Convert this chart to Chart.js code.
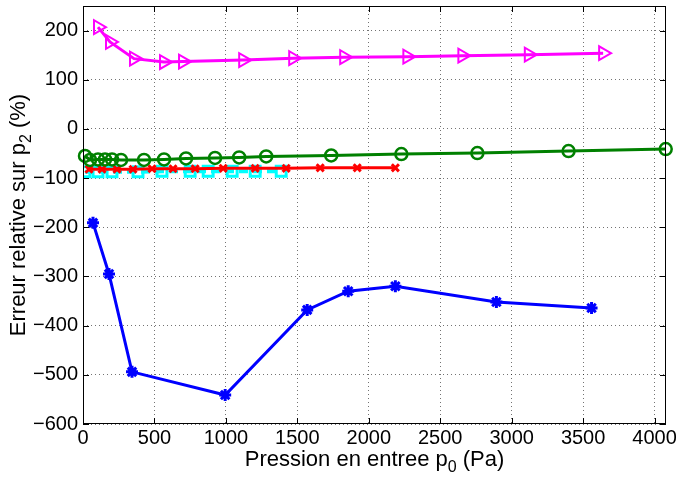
<!DOCTYPE html>
<html>
<head>
<meta charset="utf-8">
<script src="https://cdn.jsdelivr.net/npm/chart.js"></script>
<style>
  html, body { margin: 0; padding: 0; background: #fff; }
  #wrap { width: 676px; height: 480px; }
</style>
</head>
<body>
<div id="wrap"><canvas id="myChart" width="676" height="480"></canvas></div>
<script>
// tick labels
const xTicks = [0, 500, 1000, 1500, 2000, 2500, 3000, 3500, 4000];
const yTicks = [-600, -500, -400, -300, -200, -100, 0, 100, 200];

// series (p0 in Pa, relative error in %)
const magX = [105, 189, 357, 567, 700, 1121, 1471, 1828, 2270, 2655, 3120, 3640];
const magY = [207, 177, 143, 136, 137, 140, 144, 146, 147, 149, 151, 154];

const greenX = [14, 49, 105, 154, 203, 266, 427, 567, 721, 924, 1093, 1282, 1737, 2228, 2760, 3398, 4078];
const greenY = [-55, -63, -62, -62, -62, -63, -63, -62, -60, -59, -58, -56, -54, -51, -49, -45, -41];

const redX = [42, 133, 238, 350, 483, 630, 785, 981, 1205, 1422, 1660, 1919, 2186];
const redY = [-82, -82, -82, -82, -81, -81, -81, -80, -80, -80, -79, -79, -79];

const cyanX = [14, 105, 203, 385, 553, 750, 876, 1044, 1205, 1387];
const cyanY = [-87, -87, -87, -87, -86, -86, -86, -86, -86, -86];

const blueX = [70, 182, 343, 995, 1569, 1856, 2186, 2893, 3559];
const blueY = [-191, -295, -494, -541, -368, -330, -320, -352, -364];

function pts(xs, ys) {
  return xs.map((x, i) => ({ x: x, y: ys[i] }))
}

const fontFam = '"Liberation Sans", Arial, Helvetica, sans-serif'

const frame = {
  id: 'frame',
  afterDraw(chart) {
    const ctx = chart.ctx
    const a = chart.chartArea
    const xs = chart.scales.x, ys = chart.scales.y
    ctx.save()
    ctx.strokeStyle = '#000'
    ctx.lineWidth = 1
    ctx.strokeRect(a.left + 0.5, a.top + 0.5, a.right - a.left - 1, a.bottom - a.top - 1)
    ctx.beginPath()
    xTicks.forEach(v => {
      const px = Math.round(xs.getPixelForValue(v)) + 0.5
      ctx.moveTo(px, a.bottom); ctx.lineTo(px, a.bottom - 6)
      ctx.moveTo(px, a.top); ctx.lineTo(px, a.top + 6)
    })
    yTicks.forEach(v => {
      const py = Math.round(ys.getPixelForValue(v)) + 0.5
      ctx.moveTo(a.left, py); ctx.lineTo(a.left + 6, py)
      ctx.moveTo(a.right, py); ctx.lineTo(a.right - 6, py)
    })
    ctx.stroke()

    // axis labels with subscripts
    ctx.fillStyle = '#000'
    ctx.textBaseline = 'alphabetic'
    const big = 22, small = 16
    function label(parts, x, y) {
      let w = 0
      parts.forEach(p => {
        ctx.font = (p.sub ? small : big) + 'px ' + fontFam
        w += ctx.measureText(p.t).width
      })
      let cx = x - w / 2
      parts.forEach(p => {
        ctx.font = (p.sub ? small : big) + 'px ' + fontFam
        ctx.fillText(p.t, cx, y + (p.sub ? 6 : 0))
        cx += ctx.measureText(p.t).width
      })
    }
    ctx.textAlign = 'left'
    label([{ t: 'Pression en entree p' }, { t: '0', sub: true }, { t: ' (Pa)' }], (a.left + a.right) / 2, 466)
    ctx.save()
    ctx.translate(25, (a.top + a.bottom) / 2)
    ctx.rotate(-Math.PI / 2)
    label([{ t: 'Erreur relative sur p' }, { t: '2', sub: true }, { t: ' (%)' }], 0, 0)
    ctx.restore()
    ctx.restore()
  }
}

const config = {
  type: 'line',
  data: {
    datasets: [
      {
        data: pts(magX, magY),
        borderColor: '#ff00ff',
        borderWidth: 3,
        pointStyle: 'triangle',
        rotation: 90,
        pointRadius: 8,
        pointBorderWidth: 2,
        pointBackgroundColor: 'rgba(0,0,0,0)',
        pointBorderColor: '#ff00ff'
      },
      {
        data: pts(greenX, greenY),
        borderColor: '#008000',
        borderWidth: 3,
        pointStyle: 'circle',
        pointRadius: 6,
        pointBorderWidth: 2.5,
        pointBackgroundColor: 'rgba(0,0,0,0)',
        pointBorderColor: '#008000',
        clip: false
      },
      {
        data: pts(redX, redY),
        borderColor: '#ff0000',
        borderWidth: 3,
        pointStyle: 'crossRot',
        pointRadius: 5,
        pointBorderWidth: 3,
        pointBorderColor: '#ff0000'
      },
      {
        data: pts(cyanX, cyanY),
        borderColor: '#00ffff',
        borderWidth: 4,
        borderDash: [9, 5],
        pointStyle: 'rect',
        pointRadius: 7,
        pointBorderWidth: 3,
        pointBackgroundColor: 'rgba(0,0,0,0)',
        pointBorderColor: '#00ffff'
      },
      {
        data: pts(blueX, blueY),
        borderColor: '#0000ff',
        borderWidth: 3,
        pointStyle: 'star',
        pointRadius: 6,
        pointBorderWidth: 3,
        pointBorderColor: '#0000ff'
      }
    ]
  },
  options: {
    responsive: false,
    animation: false,
    layout: { autoPadding: false, padding: { top: 6, right: 10, left: 0, bottom: 0 } },
    elements: { line: { tension: 0 } },
    plugins: {
      legend: { display: false },
      tooltip: { enabled: false }
    },
    scales: {
      x: {
        type: 'linear',
        min: 0,
        max: 4080,
        afterBuildTicks: s => { s.ticks = xTicks.map(v => ({ value: v })) },
        afterFit: s => { s.height = 56; s.paddingLeft = 0; s.paddingRight = 0 },
        grid: { color: 'rgba(0,0,0,0.55)', lineWidth: 1, drawTicks: false },
        border: { display: false, dash: [1, 3] },
        ticks: {
          color: '#000',
          padding: 2,
          maxRotation: 0,
          autoSkip: false,
          font: { family: fontFam, size: 20 },
          callback: v => String(v)
        }
      },
      y: {
        type: 'linear',
        min: -600,
        max: 250,
        afterBuildTicks: s => { s.ticks = yTicks.map(v => ({ value: v })) },
        afterFit: s => { s.width = 83; s.paddingTop = 0; s.paddingBottom = 0 },
        grid: { color: 'rgba(0,0,0,0.55)', lineWidth: 1, drawTicks: false },
        border: { display: false, dash: [1, 3] },
        ticks: {
          color: '#000',
          padding: 5,
          autoSkip: false,
          font: { family: fontFam, size: 20 },
          callback: v => String(v).replace('-', '\u2212')
        }
      }
    }
  },
  plugins: [frame]
}

const myChart = new Chart(document.getElementById('myChart'), config)
</script>
</body>
</html>
